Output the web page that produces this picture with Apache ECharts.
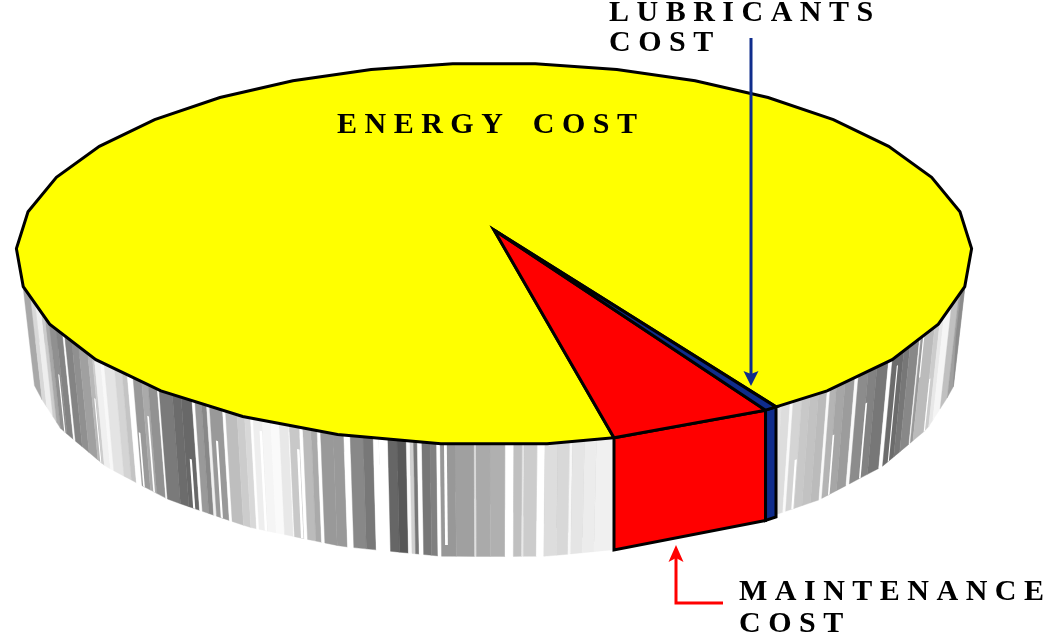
<!DOCTYPE html>
<html>
<head>
<meta charset="utf-8">
<style>html,body{margin:0;padding:0;background:#fff}#chart{width:1052px;height:638px}</style>
<script src="https://cdn.jsdelivr.net/npm/echarts@6/dist/echarts.min.js"></script>
</head>
<body>
<div id="chart"></div>
<script>
// Shares of the total cost, in percent, drawn counter-clockwise from startAngle.
const costNames = ['Energy cost', 'Maintenance cost', 'Lubricants cost'];
const costShares = [94.6, 5.0, 0.4];
const costColors = ['#ffff00', '#ff0000', '#0f2c8c'];

// Shaded bands of the metal side wall: first angle of each band and its grey level.
const wallBandStart = [
  183,196,200,202,204.7,206.3,208,209.7,211.3,211.8,213.5,215.2,217.4,218.5,219,220.2,220.8,222.6,223.9,224.8,
  225.8,227.3,228.4,230,230.3,232.2,233.4,234.9,235.3,236.2,236.9,237.3,239.1,239.5,241.1,242.1,242.8,243.1,244.2,245.2,
  246.2,247.3,247.4,248.6,249,250,250.7,251.1,252.6,253.8,254.5,255.9,257,257.6,258.6,259.6,260.6,261,261.4,261.8,
  262.3,263.2,263.9,264.3,265.9,267.9,268.1,269.6,271.2,272.1,273,273.2,274.6,275.4,276.8,278.1,278.4,279.7,281,
  301.5,303.1,304.3,304.7,305.9,307,308.2,309.4,309.9,311,312.5,314.2,314.8,316.5,318,320,320.7,323.5,325,327.3,
  327.6,328.3,331,332.5,334.3,337.5,340.6,343.7
];
const wallBandGrey = [
  170,168,216,238,204,168,144,132,255,132,144,160,184,204,240,248,228,212,196,255,
  153,170,146,255,122,108,104,255,153,136,240,153,255,190,204,216,255,238,245,250,
  232,255,200,255,187,170,255,153,153,255,136,120,255,255,102,88,250,208,119,255,
  119,128,255,152,160,224,170,176,255,192,232,204,255,221,216,248,229,236,240,
  228,221,250,212,200,194,187,250,180,166,156,250,140,130,119,255,108,119,136,250,
  153,187,204,232,245,192,160,140
];

// White scratches on the wall: angle, and the part of the wall height they cover.
const scratchAngle = [209, 218, 227.8, 234, 243.8, 248.2, 311, 316.5, 322, 328.2, 331, 305.5, 264.7, 237.9, 226];
const scratchFrom = [0.45, 0.4, 0.3, 0.55, 0.1, 0.2, 0.45, 0.3, 0.1, 0, 0.5, 0.55, 0, 0.3, 0.5];
const scratchTo = [1, 1, 1, 1, 1, 1, 1, 1, 1, 0.4, 1, 1, 0.9, 1, 1];

// Perspective of the disc: centre, half width, depth, foreshortening, wall height.
const view = { cx: 494, cy: 230, a: 474, b: 188, p: 0.1257, wall: 98.4, taper: 0.025 };
const startAngle = 302.35;
const facetStep = 11.25;

const rad = d => d * Math.PI / 180;

function project(angle, r) {
  const u = r * Math.cos(rad(angle)), v = r * Math.sin(rad(angle));
  const s = 1 + view.p * v;
  return [view.cx + view.a * u / s, view.cy - view.b * v / s];
}

// The rim is a 32-sided polygon, so points on it lie on straight facets.
function rimPoint(angle) {
  const k = Math.floor((angle - facetStep / 2) / facetStep);
  const a0 = (k + 0.5) * facetStep, t = (angle - a0) / facetStep;
  const p0 = project(a0, 1), p1 = project(a0 + facetStep, 1);
  return [p0[0] + (p1[0] - p0[0]) * t, p0[1] + (p1[1] - p0[1]) * t];
}

function drop(point, angle, taper) {
  const s = 1 + view.p * Math.sin(rad(angle));
  return [point[0] - taper * (point[0] - view.cx), point[1] + view.wall / s];
}

function sliceRange(index) {
  const total = costShares.reduce((a, b) => a + b, 0);
  let a = startAngle;
  for (let i = 0; i < index; i++) a += costShares[i] / total * 360;
  return [a, a + costShares[index] / total * 360];
}

function polygon(api, pts, style) {
  return { type: 'polygon', shape: { points: pts.map(p => api.coord(p)) }, style };
}

function lerp(p, q, t) {
  return [p[0] + (q[0] - p[0]) * t, p[1] + (q[1] - p[1]) * t];
}

function wallBands(api) {
  const out = [];
  wallBandStart.forEach((a0, i) => {
    const next = wallBandStart[i + 1];
    const a1 = (next === undefined || next - a0 > 10) ? (a0 < 290 ? 283.5 : 358) : next;
    const pts = [project(a0, 0.9), rimPoint(a0), drop(rimPoint(a0), a0, view.taper),
                 drop(rimPoint(a1), a1, view.taper), rimPoint(a1), project(a1, 0.9)];
    const g = wallBandGrey[i];
    const c = 'rgb(' + g + ',' + g + ',' + g + ')';
    out.push(polygon(api, pts, { fill: c, stroke: c, lineWidth: 0.4 }));
  });
  scratchAngle.forEach((a, i) => {
    const b = a + 0.3;
    const r0 = rimPoint(a), r1 = rimPoint(b);
    const d0 = drop(r0, a, view.taper), d1 = drop(r1, b, view.taper);
    out.push(polygon(api, [lerp(r0, d0, scratchFrom[i]), lerp(r0, d0, scratchTo[i]),
                           lerp(r1, d1, scratchTo[i]), lerp(r1, d1, scratchFrom[i])], { fill: '#fff' }));
  });
  return out;
}

function renderSlice(params, api) {
  const i = params.dataIndex;
  const range = sliceRange(i);
  const a0 = range[0], a1 = range[1];
  const edge = { stroke: '#000', lineWidth: 3, lineJoin: 'miter' };
  const children = [];
  const top = [[view.cx, view.cy], rimPoint(a0)];
  if (a1 - a0 > 2 * facetStep) {
    for (let k = Math.ceil(a0 / facetStep - 0.5); (k + 0.5) * facetStep < a1; k++) {
      top.push(project((k + 0.5) * facetStep, 1));
    }
    children.push.apply(children, wallBands(api));
  } else {
    const wall = [rimPoint(a0), rimPoint(a1), drop(rimPoint(a1), a1, 0), drop(rimPoint(a0), a0, 0)];
    children.push(polygon(api, wall, Object.assign({ fill: costColors[i] }, edge)));
  }
  top.push(rimPoint(a1));
  children.push(polygon(api, top, Object.assign({ fill: costColors[i] }, edge)));
  return { type: 'group', children };
}

const labelFont = 'bold 30px "Liberation Serif", "Times New Roman", serif';
function label(text, x, y) {
  return { type: 'text', x, y, silent: true, z: 10,
           style: { text, font: labelFont, fill: '#000' } };
}
const blue = costColors[2], red = costColors[1];

const chart = echarts.init(document.getElementById('chart'), null, { renderer: 'canvas' });
chart.setOption({
  animation: false,
  backgroundColor: '#fff',
  grid: { left: 0, right: 0, top: 0, bottom: 0 },
  xAxis: { type: 'value', min: 0, max: 1052, show: false },
  yAxis: { type: 'value', min: 0, max: 638, inverse: true, show: false },
  series: [{
    type: 'custom',
    coordinateSystem: 'cartesian2d',
    clip: false,
    renderItem: renderSlice,
    data: costShares.map((v, i) => ({ name: costNames[i], value: [i, v] }))
  }],
  graphic: [
    label('E N E R G Y    C O S T', 337, 110),
    label('L U B R I C A N T S', 609, -2),
    label('C O S T', 609, 28),
    label('M A I N T E N A N C E', 739, 577),
    label('C O S T', 739, 609),
    { type: 'polyline', z: 9, shape: { points: [[751, 38], [751, 376]] },
      style: { stroke: blue, lineWidth: 3, fill: null } },
    { type: 'polygon', z: 9, shape: { points: [[743.5, 371], [751, 374], [758.5, 371], [751, 386]] },
      style: { fill: blue } },
    { type: 'polyline', z: 9, shape: { points: [[723, 603], [676, 603], [676, 556]] },
      style: { stroke: red, lineWidth: 3, fill: null, lineJoin: 'miter' } },
    { type: 'polygon', z: 9, shape: { points: [[668.5, 562], [676, 558], [683.5, 562], [676, 545]] },
      style: { fill: red } }
  ]
});
</script>
</body>
</html>
